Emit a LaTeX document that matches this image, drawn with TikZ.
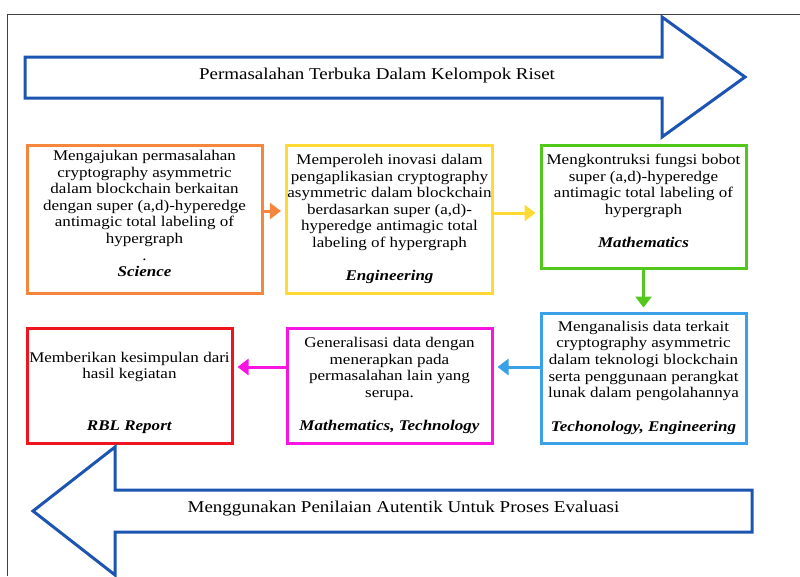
\documentclass[tikz,border=0pt]{standalone}
\usepackage{fontspec}
\setmainfont{Liberation Serif}[FakeStretch=1.15]
\usepackage{xcolor}
\usetikzlibrary{arrows.meta,positioning}
\definecolor{sciorange}{RGB}{245,135,60}
\definecolor{engyellow}{RGB}{255,218,50}
\definecolor{mathgreen}{RGB}{82,200,28}
\definecolor{techblue}{RGB}{58,160,232}
\definecolor{genmagenta}{RGB}{250,20,225}
\definecolor{rblred}{RGB}{240,20,30}
\definecolor{bigblue}{RGB}{28,84,178}
\newcommand{\field}[1]{\textbf{\textit{#1}}}

\begin{document}
\begin{tikzpicture}[x=1pt,y=-1pt,
                    main node/.style={rectangle,draw,line width=3pt,align=center,inner sep=1pt,
                                      font=\fontsize{14.8}{16.6}\selectfont},
                    big arrow/.style={draw=bigblue,line width=3pt,line join=miter},
                    arrow text/.style={font=\fontsize{16.5}{18}\selectfont},
                    flow/.style={line width=3pt,-{Triangle[length=11pt,width=16pt]},shorten >=4pt}]

  \useasboundingbox (0,0) rectangle (800,576);
  \draw[line width=1pt,black!75] (7,576) -- (7,14) -- (800,14);

  \draw[big arrow] (25,57) -- (662,57) -- (662,17) -- (745,77) -- (662,137) -- (662,98) -- (25,98) -- cycle;
  \node[arrow text] (open) at (377,76) {Permasalahan Terbuka Dalam Kelompok Riset};

  \node[main node,draw=sciorange,minimum width=235pt,minimum height=148pt] (sci) at (144.5,219)
    {Mengajukan permasalahan\\ cryptography asymmetric\\ dalam blockchain berkaitan\\
     dengan super (a,d)-hyperedge\\ antimagic total labeling of\\ hypergraph\\ .\\ \field{Science}\rule[-11pt]{0pt}{11pt}};
  \node[main node,draw=engyellow,minimum width=205pt,minimum height=148pt] (eng) at (389.5,219)
    {Memperoleh inovasi dalam\\ pengaplikasian cryptography\\ asymmetric dalam blockchain\\
     berdasarkan super (a,d)-\\ hyperedge antimagic total\\ labeling of hypergraph\\[16.6pt] \field{Engineering}};
  \node[main node,draw=mathgreen,minimum width=205pt,minimum height=123pt] (math) at (643.5,206.5)
    {Mengkontruksi fungsi bobot\\ super (a,d)-hyperedge\\ antimagic total labeling of\\
     hypergraph\\[16.6pt] \field{Mathematics}\rule[-11pt]{0pt}{11pt}};
  \node[main node,draw=techblue,minimum width=205pt,minimum height=130pt] (tech) at (643.5,378)
    {Menganalisis data terkait\\ cryptography asymmetric\\ dalam teknologi blockchain\\
     serta penggunaan perangkat\\ lunak dalam pengolahannya\\[17.5pt] \field{Techonology, Engineering}};
  \node[main node,draw=genmagenta,minimum width=205pt,minimum height=115pt] (gen) at (389.5,385.5)
    {Generalisasi data dengan\\ menerapkan pada\\ permasalahan lain yang\\
     serupa.\\[16.6pt] \field{Mathematics, Technology}};
  \node[main node,draw=rblred,minimum width=205pt,minimum height=115pt] (rbl) at (129.5,385.5)
    {\rule{0pt}{25pt}Memberikan kesimpulan dari\\ hasil kegiatan\\[35.4pt] \field{RBL Report}};

  \path[flow,color=sciorange]
  ([yshift=8pt]sci.east) edge ([yshift=8pt]eng.west);

  \path[flow,color=engyellow]
  ([yshift=6pt]eng.east) edge ([yshift=-6.5pt]math.west);

  \path[flow,color=mathgreen]
  (math.south) edge (tech.north);

  \path[flow,color=techblue]
  ([yshift=11pt]tech.west) edge ([yshift=18.5pt]gen.east);

  \path[flow,color=genmagenta]
  ([yshift=18.5pt]gen.west) edge ([yshift=18.5pt]rbl.east);

  \draw[big arrow] (752,490) -- (115,490) -- (115,447) -- (33,511) -- (115,575) -- (115,532) -- (752,532) -- cycle;
  \node[arrow text] (eval) at (403.5,509) {Menggunakan Penilaian Autentik Untuk Proses Evaluasi};

\end{tikzpicture}
\end{document}
